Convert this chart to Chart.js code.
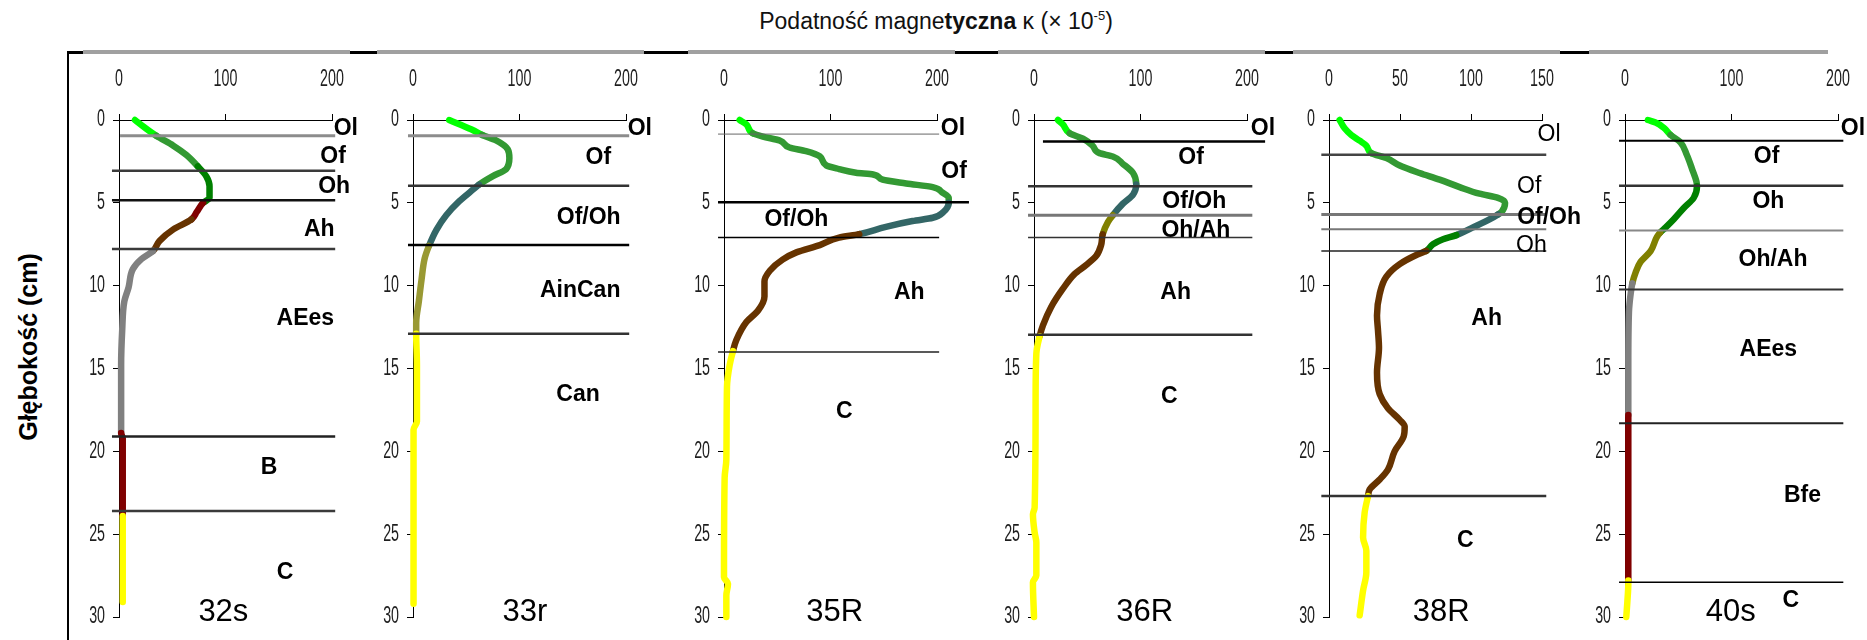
<!DOCTYPE html>
<html>
<head>
<meta charset="utf-8">
<script src="https://cdn.jsdelivr.net/npm/chart.js@4.4.1/dist/chart.umd.min.js"></script>
<style>
  html, body { margin: 0; padding: 0; background: #ffffff; }
  #page { position: relative; width: 1867px; height: 640px; overflow: hidden; background: #ffffff; }
  #page canvas { position: absolute; }
  .rule { position: absolute; background: #000; }
  .strip { position: absolute; background: #a0a0a0; }
  #title {
    position: absolute; top: 8px; left: 686px; width: 500px; text-align: center;
    font: 23px "Liberation Sans", Arial, sans-serif; color: #111; white-space: nowrap;
  }
  #title sup { font-size: 13px; }
  #ytitle {
    position: absolute; left: 28px; top: 347px; transform: translate(-50%, -50%) rotate(-90deg);
    font: bold 25px "Liberation Sans", Arial, sans-serif; color: #000; white-space: nowrap;
  }
</style>
</head>
<body>
<div id="page">
  <div id="title">Podatność magne<b>tyczna</b> κ (× 10<sup>-5</sup>)</div>
  <div id="ytitle">Głębokość (cm)</div>
</div>
<script>
// Magnetic susceptibility κ (×10^-5) against depth (cm) for six soil profiles.

// ---- axis ticks
const kappaTicks200 = [0, 100, 200];
const kappaTicks150 = [0, 50, 100, 150];
const depthTicks = [0, 5, 10, 15, 20, 25, 30];

// ---- profile 32s
const depth32s = [0, 0.4, 0.95, 1.55, 2.1, 2.8, 3.4, 4.0, 4.7, 5.0, 5.55, 6.0, 6.6, 7.3, 7.9, 8.4, 9.0, 10.1, 10.95, 12.7, 14.8, 18.9, 19.2, 23.9, 24.0, 29.1];
const kappa32s = [15, 23, 35, 51, 63, 74, 82, 85, 85, 79, 73, 68, 51, 38, 32, 21, 13, 9, 5, 3, 2, 2, 3.5, 3.5, 3.5, 3.5];
const bounds32s = [0.95, 3.07, 4.84, 7.78, 19.1, 23.6];
const horizons32s = ['Ol', 'Of', 'Oh', 'Ah', 'AEes', 'B', 'C'];
const breaks32s = [0.95, 2.8, 5.0, 6.0, 7.9, 18.9, 23.9];

// ---- profile 33r
const depth33r = [0, 0.26, 0.6, 0.9, 1.23, 1.77, 2.3, 2.96, 3.39, 3.9, 4.14, 4.9, 5.76, 6.63, 7.6, 8.35, 9.65, 10.94, 12.24, 12.9, 14.8, 18.2, 18.7, 29.2];
const kappa33r = [34, 43.5, 56, 65, 78, 89, 90.5, 87.5, 75, 62, 57.5, 43.5, 31, 22, 15, 11, 8, 5.5, 3, 3, 3.7, 3.7, 0.5, 0.5];
const bounds33r = [0.95, 3.97, 7.55, 12.9];
const horizons33r = ['Ol', 'Of', 'Of/Oh', 'AinCan', 'Can'];
const breaks33r = [0.9, 3.9, 7.6, 12.9];

// ---- profile 35R
const depth35R = [0, 0.26, 0.8, 1.0, 1.23, 1.66, 1.88, 2.2, 2.74, 2.96, 3.18, 3.29, 3.6, 3.83, 4.05, 4.38, 4.7, 5.0, 5.55, 5.9, 6.1, 6.45, 6.89, 7.1, 7.55, 7.99, 8.43, 9.1, 9.75, 10.65, 11.5, 12.2, 13.3, 13.95, 14.8, 16.1, 20.5, 21.6, 27.6, 28.0, 28.7, 30];
const kappa35R = [14.7, 21, 27, 36.5, 52, 61.5, 77, 90, 96, 108, 124, 140, 149, 171, 196, 205, 211, 211, 206, 196, 177, 152, 127, 108, 90, 68, 55, 43, 38, 38, 32, 21, 11.5, 8.4, 5.3, 2.8, 2.2, 0.6, 0, 3.75, 2.2, 2.2];
const bounds35R = [0.85, 4.97, 7.1, 14.0];
const horizons35R = ['Ol', 'Of', 'Of/Oh', 'Ah', 'C'];
const breaks35R = [0.8, 5.0, 6.89, 13.95];

// ---- profile 36R
const depth36R = [0, 0.26, 0.8, 1.13, 1.55, 2.0, 2.2, 2.65, 3.2, 3.9, 4.5, 5.05, 5.75, 6.15, 6.9, 7.55, 8.2, 8.75, 9.3, 10.2, 11.3, 12.4, 13.05, 14.1, 17.1, 23.4, 23.8, 24.9, 25.5, 27.5, 27.9, 30];
const kappa36R = [22.5, 27, 33.5, 46, 55, 61.5, 74, 83.5, 93, 96, 93, 83.5, 74, 69.5, 64.5, 63, 58.5, 49, 38, 27, 16, 8.4, 5.3, 2.2, 1.5, 0.6, -1, 0.6, 2.2, 2.2, -1, 0];
const bounds36R = [1.3, 4.0, 5.75, 7.1, 12.97];
const horizons36R = ['Ol', 'Of', 'Of/Oh', 'Oh/Ah', 'Ah', 'C'];
const breaks36R = [0.8, 3.9, 5.75, 6.9, 13.05];

// ---- profile 38R
const depth38R = [0, 0.5, 0.9, 1.25, 1.55, 2.0, 2.3, 2.75, 3.2, 3.6, 4.05, 4.45, 4.7, 5.0, 5.55, 5.7, 6.0, 6.5, 6.95, 7.2, 7.5, 7.9, 8.15, 8.7, 9.45, 10.5, 11.8, 12.7, 13.75, 15.25, 16.55, 17.4, 18.1, 18.5, 19.1, 20.0, 21.1, 21.7, 22.3, 22.7, 23.7, 25.2, 26.0, 27.3, 28.4, 29.9];
const kappa38R = [7.5, 11, 15.7, 21.6, 26.3, 29.8, 40.4, 49.8, 63.8, 77.9, 92, 106, 119, 124, 121.5, 119, 113, 101, 89.7, 80.3, 73.2, 68.5, 61.5, 49.8, 40.4, 35.7, 33.8, 34.5, 35.2, 33.8, 35.7, 41.5, 49.8, 53.3, 52.6, 46.2, 41.5, 35.7, 28.6, 27.5, 25.1, 24, 26.3, 26.3, 24, 21.6];
const bounds38R = [2.1, 5.7, 6.6, 7.9, 22.7];
const horizons38R = ['Ol', 'Of', 'Of/Oh', 'Oh', 'Ah', 'C'];
const breaks38R = [2.0, 5.7, 6.95, 7.9, 22.7];

// ---- profile 40s
const depth40s = [0, 0.15, 0.47, 0.9, 1.34, 2.1, 2.96, 3.7, 4.0, 4.7, 5.33, 5.98, 6.5, 6.8, 7.06, 7.92, 8.57, 9.2, 9.86, 10.5, 11.6, 14.8, 17.8, 27.8, 28.0, 29.1, 30];
const kappa40s = [21.5, 28.7, 36.4, 42.7, 52, 58, 63, 67, 67.6, 64.5, 55, 46, 38, 33, 30, 24, 14.6, 10, 6.9, 5.3, 3.7, 3.1, 3.1, 3.1, 3.1, 2.2, 1.2];
const bounds40s = [1.25, 3.97, 6.67, 10.23, 18.3, 27.9];
const horizons40s = ['Ol', 'Of', 'Oh', 'Oh/Ah', 'AEes', 'Bfe', 'C'];
const breaks40s = [0.9, 4.0, 6.8, 9.86, 17.8, 27.8];

// ---- colours of the horizon segments
const LIME = '#00ff00', MGREEN = '#339933', DGREEN = '#008000', DRED = '#800000',
      BROWN = '#663300', GREY = '#808080', YELLOW = '#ffff00', TEAL = '#336666',
      OLIVE = '#999933', OLIVE2 = '#808000';

// ---- page layout (pixels)
const FRAME = { left: 68, top: 52, right: 1828 };
const PANEL = { top: 56, height: 584, axisTop: 120, axisBottom: 617, width: 213, yAxisW: 60, padRight: 45 };

const panels = [
  { name: '32s', axisLeft: 119, depth: depth32s, kappa: kappa32s, max: 200, ticks: kappaTicks200,
    bounds: bounds32s, horizons: horizons32s, breaks: breaks32s,
    colours: [LIME, MGREEN, DGREEN, DRED, BROWN, GREY, DRED, YELLOW],
    lineStyle: [['#8c8c8c', 3], ['#3a3a3a', 2.5], ['#111', 2.5], ['#3a3a3a', 2.5], ['#222', 2.5], ['#3a3a3a', 2.5]],
    span: [-6.6, 203], spanOverride: { 0: [1, 203] },
    labelAt: [[213, 0.5], [201, 2.2], [202, 4.0], [188, 6.6], [175, 12.0], [141, 21.0], [156, 27.3]],
    labelBold: [1, 1, 1, 1, 1, 1, 1], nameAt: [98, 29.7] },
  { name: '33r', axisLeft: 413, depth: depth33r, kappa: kappa33r, max: 200, ticks: kappaTicks200,
    bounds: bounds33r, horizons: horizons33r, breaks: breaks33r,
    colours: [LIME, MGREEN, TEAL, OLIVE, YELLOW],
    lineStyle: [['#8c8c8c', 3], ['#333', 2.5], ['#000', 2.5], ['#333', 2.5]],
    span: [-4.7, 203], spanOverride: {},
    labelAt: [[213, 0.5], [174, 2.27], [165, 5.87], [157, 10.3], [155, 16.55]],
    labelBold: [1, 1, 1, 1, 1], nameAt: [105, 29.7] },
  { name: '35R', axisLeft: 724, depth: depth35R, kappa: kappa35R, max: 200, ticks: kappaTicks200,
    bounds: bounds35R, horizons: horizons35R, breaks: breaks35R,
    colours: [LIME, MGREEN, TEAL, BROWN, YELLOW],
    lineStyle: [['#666', 1], ['#000', 2.5], ['#000', 1.5], ['#222', 1.5]],
    span: [-5.6, 202], spanOverride: { 1: [-5.6, 230] },
    labelAt: [[215, 0.5], [216, 3.1], [68, 6.0], [174, 10.4], [113, 17.6]],
    labelBold: [1, 1, 1, 1, 1], nameAt: [104, 29.7] },
  { name: '36R', axisLeft: 1034, depth: depth36R, kappa: kappa36R, max: 200, ticks: kappaTicks200,
    bounds: bounds36R, horizons: horizons36R, breaks: breaks36R,
    colours: [LIME, MGREEN, TEAL, OLIVE2, BROWN, YELLOW],
    lineStyle: [['#000', 2.5], ['#333', 2.5], ['#777', 3], ['#333', 1.5], ['#333', 2.5]],
    span: [-5.6, 205], spanOverride: { 0: [8.4, 217] },
    labelAt: [[215, 0.5], [147.5, 2.27], [150.5, 4.9], [152, 6.7], [133, 10.4], [127, 16.7]],
    labelBold: [1, 1, 1, 1, 1, 1], nameAt: [104, 29.7] },
  { name: '38R', axisLeft: 1329, depth: depth38R, kappa: kappa38R, max: 150, ticks: kappaTicks150,
    bounds: bounds38R, horizons: horizons38R, breaks: breaks38R,
    colours: [LIME, MGREEN, TEAL, DGREEN, BROWN, YELLOW],
    lineStyle: [['#444', 2.5], ['#777', 3], ['#777', 2], ['#222', 1.5], ['#333', 2.5]],
    span: [-5.4, 153], spanOverride: {},
    labelAt: [[155, 0.9], [141, 4.0], [155, 5.9], [142.5, 7.6], [111, 12.0], [96, 25.4]],
    labelBold: [0, 0, 1, 0, 1, 1], nameAt: [79, 29.7] },
  { name: '40s', axisLeft: 1625, depth: depth40s, kappa: kappa40s, max: 200, ticks: kappaTicks200,
    bounds: bounds40s, horizons: horizons40s, breaks: breaks40s,
    colours: [LIME, MGREEN, DGREEN, OLIVE2, GREY, DRED, YELLOW],
    lineStyle: [['#000', 2], ['#333', 2.5], ['#888', 2], ['#333', 2], ['#222', 2], ['#000', 1.5]],
    span: [-5.6, 205], spanOverride: {},
    labelAt: [[214, 0.5], [133, 2.2], [134.6, 4.9], [139, 8.46], [134.6, 13.86], [166.7, 22.7], [155.8, 29.0]],
    labelBold: [1, 1, 1, 1, 1, 1, 1], nameAt: [99.4, 29.7] }
];

const page = document.getElementById('page');

// frame: black rules with the lighter top edges of each panel
function addBox(cls, l, t, w, h) {
  const d = document.createElement('div');
  d.className = cls;
  Object.assign(d.style, { left: l + 'px', top: t + 'px', width: w + 'px', height: h + 'px' });
  page.appendChild(d);
}
addBox('rule', FRAME.left, FRAME.top - 1, FRAME.right - FRAME.left, 3);
panels.forEach(p => {
  const l = p.axisLeft - 36;
  const r = Math.min(p.axisLeft + 231, FRAME.right);
  addBox('strip', l, FRAME.top - 2, r - l, 4);
});
addBox('rule', FRAME.left - 1, FRAME.top - 1, 2, 640 - FRAME.top + 1);

const FONT = '"Liberation Sans", Arial, sans-serif';

// narrow, tall lettering of the axis numbers
function narrowText(ctx, txt, x, y, size, sx, align) {
  ctx.save();
  ctx.translate(x, y);
  ctx.scale(sx, 1);
  ctx.font = `${size}px ${FONT}`;
  ctx.textAlign = align;
  ctx.textBaseline = 'middle';
  ctx.fillText(txt, 0, 0);
  ctx.restore();
}

function textPlugin(p) {
  return {
    id: 'profileText',
    afterDraw(chart) {
      const ctx = chart.ctx;
      const xs = chart.scales.x, ys = chart.scales.y;
      ctx.save();
      ctx.fillStyle = '#1e1e1e';
      xs.ticks.forEach(t => narrowText(ctx, String(t.value), xs.getPixelForValue(t.value), 80 - PANEL.top, 23, 0.62, 'center'));
      ys.ticks.forEach(t => narrowText(ctx, String(t.value), chart.chartArea.left - 14, ys.getPixelForValue(t.value), 23, 0.62, 'right'));
      ctx.fillStyle = '#000';
      ctx.textAlign = 'center';
      ctx.textBaseline = 'middle';
      p.horizons.forEach((h, i) => {
        const [lx, ld] = p.labelAt[i];
        ctx.font = `${p.labelBold[i] ? 'bold ' : ''}23px ${FONT}`;
        ctx.fillText(h, xs.getPixelForValue(lx), ys.getPixelForValue(ld));
      });
      ctx.font = `31px ${FONT}`;
      ctx.fillText(p.name, xs.getPixelForValue(p.nameAt[0]), ys.getPixelForValue(p.nameAt[1]));
      ctx.restore();
    }
  };
}

function colourAt(p, d) {
  let k = 0;
  while (k < p.breaks.length && d > p.breaks[k]) k++;
  return p.colours[k];
}

panels.forEach(p => {
  const canvas = document.createElement('canvas');
  const w = PANEL.yAxisW + PANEL.width + PANEL.padRight;
  canvas.width = w;
  canvas.height = PANEL.height;
  canvas.style.left = (p.axisLeft - PANEL.yAxisW) + 'px';
  canvas.style.top = PANEL.top + 'px';
  page.appendChild(canvas);

  const profile = {
    data: p.depth.map((d, i) => ({ x: p.kappa[i], y: d })),
    borderColor: p.colours[0],
    borderWidth: 6.5,
    borderCapStyle: 'round',
    borderJoinStyle: 'round',
    pointRadius: 0,
    cubicInterpolationMode: 'monotone',
    clip: false,
    order: 2,
    segment: {
      borderColor: c => colourAt(p, (c.p0.parsed.y + c.p1.parsed.y) / 2)
    }
  };
  const boundaryLines = p.bounds.map((d, i) => {
    const [from, to] = p.spanOverride[i] || p.span;
    return {
      data: [{ x: from, y: d }, { x: to, y: d }],
      borderColor: p.lineStyle[i][0],
      borderWidth: p.lineStyle[i][1],
      pointRadius: 0,
      tension: 0,
      clip: false,
      order: 1
    };
  });

  new Chart(canvas, {
    type: 'line',
    data: { datasets: [profile, ...boundaryLines] },
    options: {
      indexAxis: 'y',
      responsive: false,
      maintainAspectRatio: false,
      animation: false,
      events: [],
      layout: { padding: { left: 0, top: 0, right: PANEL.padRight, bottom: PANEL.top + PANEL.height - PANEL.axisBottom } },
      plugins: { legend: { display: false }, tooltip: { enabled: false } },
      scales: {
        x: {
          type: 'linear', position: 'top', min: 0, max: p.max,
          afterBuildTicks: s => { s.ticks = p.ticks.map(v => ({ value: v })); },
          afterFit: s => { s.height = PANEL.axisTop - PANEL.top; },
          ticks: { display: false },
          grid: { drawOnChartArea: false, drawTicks: true, tickLength: 6, color: '#000', lineWidth: 1 },
          border: { display: true, color: '#000', width: 1 }
        },
        y: {
          type: 'linear', position: 'left', reverse: true, min: 0, max: 30,
          afterBuildTicks: s => { s.ticks = depthTicks.map(v => ({ value: v })); },
          afterFit: s => { s.width = PANEL.yAxisW; },
          ticks: { display: false },
          grid: { drawOnChartArea: false, drawTicks: true, tickLength: 6, color: '#000', lineWidth: 1 },
          border: { display: true, color: '#000', width: 1 }
        }
      }
    },
    plugins: [textPlugin(p)]
  });
});
</script>
</body>
</html>
